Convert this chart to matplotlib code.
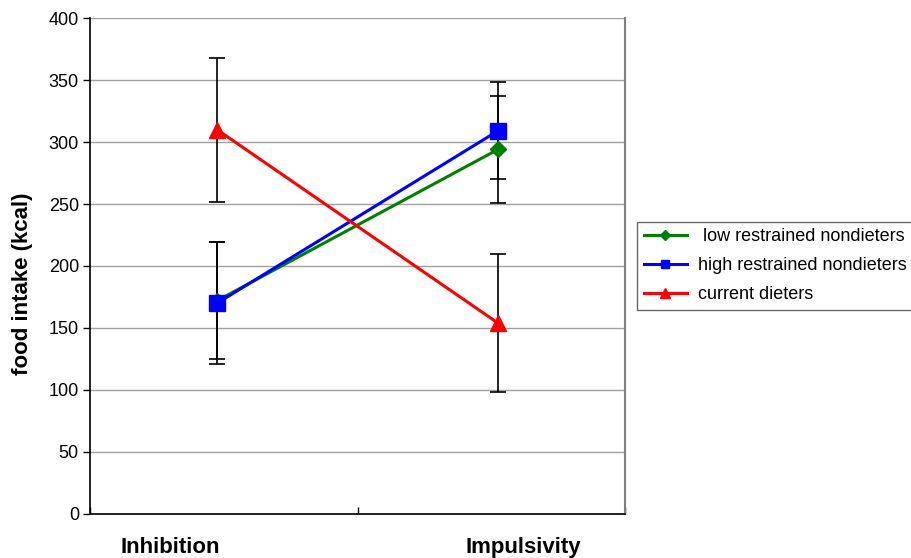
import matplotlib
matplotlib.use('Agg')
from matplotlib import pyplot as plt
import numpy as np

plt.rcParams['font.family'] = ['Liberation Sans', 'DejaVu Sans']

conditions = ['Inhibition', 'Impulsivity']
groups = [' low restrained nondieters', 'high restrained nondieters', 'current dieters']
low_vals = [172, 294]
low_err = [47, 43]
high_vals = [170, 309]
high_err = [49, 39]
diet_vals = [310, 154]
diet_err = [58, 56]

colors = ['#008000', '#0000ff', '#ff0000']
markers = ['D', 's', '^']
sizes = [8, 12, 12]
legend_sizes = [5, 6, 7]

fig = plt.figure(figsize=(9.12, 5.58), dpi=100)
ax = fig.add_axes([0.0987, 0.0789, 0.5866, 0.8888])

x = np.array([0.475, 1.525])
series = [(low_vals, low_err), (high_vals, high_err), (diet_vals, diet_err)]
handles = []
for vals, err in series:
    ax.errorbar(x, vals, yerr=err, fmt='none', ecolor='black', elinewidth=1.2,
                capsize=6, capthick=1.2, zorder=2)
for i, (vals, err) in enumerate(series):
    ax.plot(x, vals, color=colors[i], lw=2.2, marker=markers[i], ms=sizes[i],
            markeredgecolor=colors[i], zorder=3)
    h, = ax.plot([], [], color=colors[i], lw=2.2, marker=markers[i], ms=legend_sizes[i])
    handles.append(h)

ax.set_xlim(0, 2)
ax.set_ylim(0, 400)
ax.set_yticks(np.arange(0, 401, 50))
ax.yaxis.grid(True, color='#a0a0a0', lw=1)
ax.set_axisbelow(True)
ax.set_xticks([0, 1, 2])
ax.set_xticklabels([])
ax.tick_params(axis='x', direction='in', length=5, width=1)
ax.tick_params(axis='y', direction='out', length=5, width=1, labelsize=13, pad=3)
for s in ['left', 'bottom']:
    ax.spines[s].set_color('black')
    ax.spines[s].set_linewidth(1.2)
ax.spines['top'].set_visible(False)
ax.spines['right'].set_color('#808080')
ax.spines['right'].set_linewidth(1.5)

# category labels sit off-centre in the original
lbl_x = [0.30, 1.62]
for lx, c in zip(lbl_x, conditions):
    ax.text(lx, -0.067, c, transform=ax.get_xaxis_transform(), ha='center', va='center',
            fontsize=16, fontweight='bold')

ax.set_ylabel('food intake (kcal)', fontsize=16, fontweight='bold')
ax.yaxis.set_label_coords(-0.106, 0.465)

fig.legend(handles, groups,
           loc='upper left', bbox_to_anchor=(0.699, 0.603), fontsize=13, frameon=True,
           fancybox=False, edgecolor='#404040', handlelength=2.4, borderpad=0.35,
           labelspacing=0.68, handletextpad=0.6, borderaxespad=0)

fig.savefig('out.png', dpi=100)
